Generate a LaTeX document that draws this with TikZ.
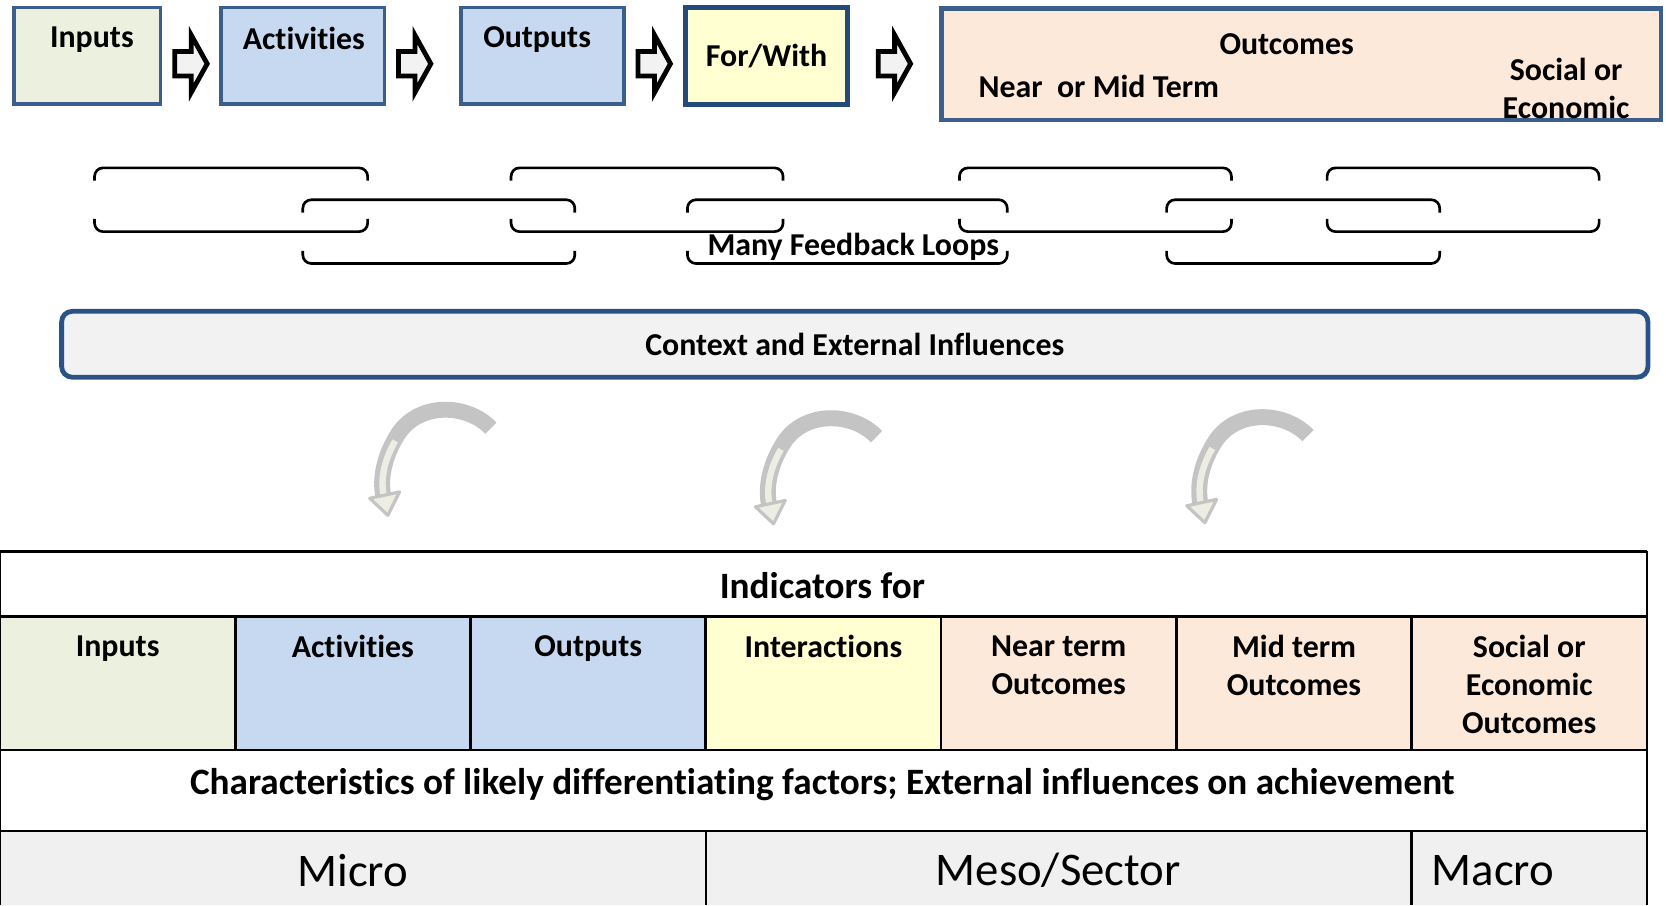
\documentclass[tikz,border=0pt]{standalone}
\usepackage{fontspec}
\setmainfont{Carlito}[Ligatures=NoCommon]
\definecolor{bordblue}{HTML}{3B5E8C}
\definecolor{fwblue}{HTML}{244A7C}
\definecolor{ctxblue}{HTML}{2A5188}
\definecolor{cgreen}{HTML}{EBF1DE}
\definecolor{cblue}{HTML}{C6D9F1}
\definecolor{cyellow}{HTML}{FFFFD2}
\definecolor{cpeach}{HTML}{FDE9D9}
\definecolor{cgray}{HTML}{F2F2F2}
\definecolor{rowgray}{HTML}{F0F0F0}
\definecolor{agray}{HTML}{C4C4C4}
\definecolor{alight}{HTML}{EEEDE3}
\begin{document}
\begin{tikzpicture}[x=1pt,y=-1pt,
  every node/.style={inner sep=0pt,outer sep=0pt},
  tx/.style={font=\fontsize{30}{36}\selectfont\bfseries,align=center},
  hdtx/.style={font=\fontsize{35}{42}\selectfont\bfseries,align=center},
  bigtx/.style={font=\fontsize{44}{52}\selectfont},
  topbox/.style={draw=bordblue,line width=3.5,rectangle},
  barrow/.style={draw=black,fill=cgray,line width=4.5,line join=miter},
  loopline/.style={draw=black,line width=2.5,rounded corners=8},
  tline/.style={draw=black,line width=2.5},
  band/.style={draw=agray,line width=15},
  bandin/.style={draw=alight,line width=6},
  ahead/.style={fill=alight,draw=agray,line width=3,line join=round}]
\useasboundingbox (0,0) rectangle (1568,852);

% ---------- top row ----------
\node[topbox,fill=cgreen,minimum width=138,minimum height=91] (inputs) at (82,52.5) {};
\node[tx] (inputsT) at (86.5,37.5) {Inputs};
\node[topbox,fill=cblue,minimum width=154,minimum height=91] (activities) at (285,52.5) {};
\node[tx] (activitiesT) at (286,36) {Activities};
\node[topbox,fill=cblue,minimum width=153,minimum height=91] (outputs) at (510.5,52.5) {};
\node[tx] (outputsT) at (505.5,37.5) {Outputs};
\node[topbox,draw=fwblue,line width=4.5,fill=cyellow,minimum width=153,minimum height=91,tx] (forwith) at (721.5,52.5) {For/With};
\node[topbox,line width=4,fill=cpeach,minimum width=677,minimum height=105] (outcomes) at (1224.5,60.5) {};
\node[tx] (outcomesT) at (1211,42) {Outcomes};
\node[tx,anchor=west] (nearmid) at (921,81) {Near\ \ or Mid Term};
\node[tx] (social) at (1474,83) {Social or\\Economic};

\foreach \cx in {180,390.5,616,842}
  \draw[barrow] (\cx-15.5,48.5) -- (\cx,48.5) -- (\cx,33) -- (\cx+15,60) -- (\cx,87) -- (\cx,71.5) -- (\cx-15.5,71.5) -- cycle;

% ---------- feedback loops ----------
\foreach \xa/\xb/\yt in {89/346/158,285/541/188,481/737/158,647/948/188,903/1159/158,1098/1355/188,1249/1505/158} {
  \draw[loopline] (\xa,\yt+12) -- (\xa,\yt) -- (\xb,\yt) -- (\xb,\yt+12);
  \draw[loopline] (\xa,\yt+48) -- (\xa,\yt+60) -- (\xb,\yt+60) -- (\xb,\yt+48);
}
\node[tx] (mfl) at (803,232) {Many Feedback Loops};

% ---------- context ----------
\node[draw=ctxblue,line width=4.5,fill=cgray,rounded corners=10,minimum width=1493,minimum height=62,tx] (context) at (804.5,324) {Context and External Influences};

% ---------- curved arrows ----------
\foreach \dx/\dy in {0/0,363/8,769/7} {
  \begin{scope}[shift={(\dx,\dy)}]
    \draw[band] (462,403) .. controls (440,380) and (395,378) .. (375,408) .. controls (362,428) and (357,450) .. (361,468);
    \draw[bandin] (372,415) .. controls (362,432) and (358,450) .. (361,466);
    \filldraw[ahead] (348,469) -- (376,463) -- (365,485) -- cycle;
  \end{scope}
}

% ---------- table ----------
\def\cw{221.43}
\foreach \i/\col in {0/cgreen,1/cblue,2/cblue,3/cyellow,4/cpeach,5/cpeach,6/cpeach}
  \fill[\col] (\i*\cw,580) rectangle ({(\i+1)*\cw},706);
\fill[rowgray] (0,782) rectangle (1550,852);
\draw[tline] (0,519) -- (1550,519) (0,580) -- (1550,580) (0,706) -- (1550,706) (0,782) -- (1550,782);
\draw[tline] (0,519) -- (0,852) (1550,519) -- (1550,852);
\foreach \i in {1,...,6} \draw[tline] (\i*\cw,580) -- (\i*\cw,706);
\draw[tline] (664.3,782) -- (664.3,852) (1328.6,782) -- (1328.6,852);

\node[hdtx] (indfor) at (774,551) {Indicators for};
\node[tx,anchor=north] (c1) at (110.7,598) {Inputs};
\node[tx,anchor=north] (c2) at (332.1,597.5) {Activities};
\node[tx,anchor=north] (c3) at (553.6,598) {Outputs};
\node[tx,anchor=north] (c4) at (775,597.5) {Interactions};
\node[tx,anchor=north] (c5) at (996.4,598) {Near term\\Outcomes};
\node[tx,anchor=north] (c6) at (1217.9,597.5) {Mid term\\Outcomes};
\node[tx,anchor=north] (c7) at (1439.3,597.5) {Social or\\Economic\\Outcomes};
\node[hdtx] (chars) at (774,738) {Characteristics of likely differentiating factors; External influences on achievement};
\node[bigtx] (micro) at (332,819) {Micro};
\node[bigtx] (meso) at (996,819) {Meso/Sector};
\node[bigtx] (macro) at (1405,819) {Macro};
\end{tikzpicture}
\end{document}
